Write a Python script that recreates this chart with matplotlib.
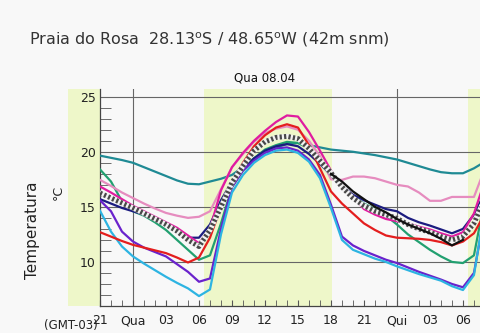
import numpy as np
import matplotlib
matplotlib.use("Agg")
import matplotlib.pyplot as plt
from matplotlib.patches import Rectangle

plt.rcParams['lines.scale_dashes'] = False

# hours relative to Wed 00:00 (local time, GMT-03)
hours = np.arange(-3, 33)

teal = [19.65, 19.45, 19.25, 19.0, 18.6, 18.2, 17.8, 17.4, 17.1, 17.05, 17.3, 17.55,
        17.9, 18.6, 19.4, 20.0, 20.4, 20.7, 20.8, 20.6, 20.4, 20.2, 20.1, 20.0,
        19.85, 19.7, 19.5, 19.3, 19.0, 18.7, 18.4, 18.15, 18.05, 18.05, 18.5, 19.1]
green = [18.4, 17.3, 15.5, 14.6, 14.2, 13.6, 12.9, 12.0, 11.1, 10.2, 10.6, 13.5,
         16.8, 18.3, 19.4, 20.2, 20.6, 20.9, 20.8, 20.3, 19.3, 17.8, 16.8, 16.0,
         15.3, 14.8, 14.2, 13.4, 12.5, 11.8, 11.1, 10.5, 10.0, 9.9, 10.6, 15.8]
pink = [17.45, 16.9, 16.3, 15.8, 15.3, 14.85, 14.45, 14.2, 14.0, 14.1, 14.6, 16.6,
        18.6, 19.8, 20.9, 21.7, 22.1, 22.3, 22.0, 21.0, 19.6, 17.5, 17.45, 17.75,
        17.75, 17.6, 17.3, 17.0, 16.85, 16.3, 15.55, 15.55, 15.9, 15.9, 15.9, 18.5]
magenta = [16.85, 16.3, 15.7, 15.1, 14.6, 14.1, 13.6, 13.1, 12.4, 11.7, 13.0, 16.5,
           18.6, 19.9, 21.0, 21.9, 22.7, 23.3, 23.2, 21.8, 20.1, 18.3, 16.8, 15.9,
           14.8, 14.3, 13.9, 13.7, 13.5, 13.2, 12.95, 12.6, 12.3, 12.7, 14.4, 17.4]
navy = [15.7, 15.3, 14.9, 14.6, 14.3, 13.9, 13.5, 12.9, 12.2, 12.2, 13.4, 15.6,
        17.3, 18.4, 19.4, 20.1, 20.5, 20.7, 20.5, 19.8, 18.9, 17.9, 16.9, 16.1,
        15.6, 15.2, 14.8, 14.6, 14.0, 13.6, 13.3, 12.95, 12.6, 13.0, 14.3, 16.3]
black = [np.nan] * 21 + [18.0, 17.3, 16.4, 15.7, 15.0, 14.5, 13.9, 13.4, 13.0,
                         12.6, 12.1, 11.5, 12.0, np.nan, np.nan]
red = [12.7, 12.3, 11.9, 11.55, 11.3, 11.05, 10.8, 10.4, 9.95, 10.4, 12.2, 15.0,
       17.2, 19.0, 20.5, 21.5, 22.2, 22.5, 22.2, 20.6, 18.5, 16.4, 15.3, 14.4,
       13.5, 12.9, 12.4, 12.2, 12.15, 12.1, 12.0, 11.8, 11.5, 11.85, 12.6, 14.4]
purple = [15.6, 14.6, 12.75, 11.85, 11.3, 10.9, 10.5, 9.8, 9.1, 8.2, 8.5, 13.0,
          16.8, 18.3, 19.2, 19.9, 20.3, 20.4, 20.1, 19.3, 17.9, 15.2, 12.3, 11.5,
          11.0, 10.6, 10.2, 9.9, 9.5, 9.1, 8.75, 8.4, 8.0, 7.7, 9.0, 14.5]
cyan = [14.65, 12.75, 11.4, 10.5, 9.85, 9.25, 8.65, 8.1, 7.6, 6.9, 7.5, 12.5,
        16.3, 17.9, 19.0, 19.7, 20.1, 20.2, 19.9, 19.1, 17.6, 14.9, 12.0, 11.1,
        10.7, 10.3, 10.0, 9.6, 9.25, 8.9, 8.6, 8.3, 7.8, 7.45, 8.8, 15.0]
mean = [16.25, 15.8, 15.35, 14.9, 14.4, 13.9, 13.4, 12.8, 12.0, 11.4, 12.9, 15.0,
        17.2, 18.7, 20.1, 20.9, 21.3, 21.4, 21.2, 20.3, 19.2, 18.1, 16.8, 15.8,
        15.1, 14.6, 14.3, 13.95, 13.4, 13.0, 12.7, 12.3, 12.0, 12.3, 13.5, 15.8]

daylight = [(6.45, 18.05), (30.5, 32.0)]
tick_hours = list(range(-3, 32, 3))
tick_labels = ['21', 'Qua', '03', '06', '09', '12', '15', '18', '21', 'Qui', '03', '06']

bg = '#f8f8f8'
shade = '#eef7c9'

fig = plt.figure(figsize=(4.8, 3.33), dpi=100, facecolor=bg)
ax = fig.add_axes([100 / 480, 27 / 333, 380 / 480, 217 / 333], facecolor=bg)
ax.set_xlim(-3, 31.55)
ax.set_ylim(6, 25.7)

for a, b in daylight:
    ax.axvspan(a, b, color=shade, lw=0, zorder=0)
ax.add_patch(Rectangle((-32 / 380, 0), 32 / 380, 1, transform=ax.transAxes,
                       color=shade, lw=0, clip_on=False, zorder=0))

for yv in (10, 15, 20, 25):
    ax.axhline(yv, color='#666666', lw=0.8, zorder=1)
for xv in (0, 24):
    ax.axvline(xv, color='#666666', lw=0.8, zorder=1)

lw = 1.6
ax.plot(hours, teal, color='#1f8a94', lw=lw, zorder=3)
ax.plot(hours, green, color='#22a070', lw=lw, zorder=3)
ax.plot(hours, pink, color='#e68cbf', lw=lw, zorder=3)
ax.plot(hours, navy, color='#1c1c80', lw=lw, zorder=3)
ax.plot(hours, purple, color='#6a22cc', lw=lw, zorder=3)
ax.plot(hours, cyan, color='#2db4e2', lw=lw, zorder=3)
ax.plot(hours, red, color='#e41e1e', lw=lw, zorder=3)
ax.plot(hours, magenta, color='#e01ca0', lw=lw, zorder=4)
ax.plot(hours, mean, color='#f2f2f2', lw=3.6, zorder=5)
ax.plot(hours, mean, color='#484848', lw=3.6, dashes=(1.6, 1.6), zorder=5)
ax.plot(hours, black, color='#111111', lw=lw, zorder=6)

for side in ('top', 'right'):
    ax.spines[side].set_visible(False)
for side in ('left', 'bottom'):
    ax.spines[side].set_color('#444444')
    ax.spines[side].set_linewidth(0.9)

ax.set_xticks(tick_hours)
ax.set_xticklabels(tick_labels)
ax.set_xticks(range(-3, 32), minor=True)
ax.set_yticks([10, 15, 20, 25])
ax.set_yticks(range(6, 26), minor=True)
ax.tick_params(axis='x', which='both', direction='in', length=4, color='#555555',
               labelsize=9, labelcolor='#222222', pad=6)
ax.tick_params(axis='y', which='major', length=0, labelsize=9,
               labelcolor='#222222', pad=3)
ax.tick_params(axis='y', which='minor', direction='in', length=8, color='#555555')

fig.text(29 / 480, 1 - 40 / 333, 'Praia do Rosa  28.13$^{\\rm o}$S / 48.65$^{\\rm o}$W (42m snm)',
         fontsize=11.5, color='#333333', ha='left', va='center')
fig.text(265 / 480, 1 - 78 / 333, 'Qua 08.04', fontsize=8.5, color='#111111',
         ha='center', va='center')
fig.text(33 / 480, 1 - 230 / 333, 'Temperatura', rotation=90, fontsize=11,
         color='#222222', ha='center', va='center')
fig.text(58 / 480, 1 - 192 / 333, '°C', rotation=90, fontsize=9,
         color='#222222', ha='center', va='center')
fig.text(71 / 480, 1 - 325 / 333, '(GMT-03)', fontsize=8.5, color='#222222',
         ha='center', va='center')

fig.savefig('out.png', dpi=100, facecolor=bg)
